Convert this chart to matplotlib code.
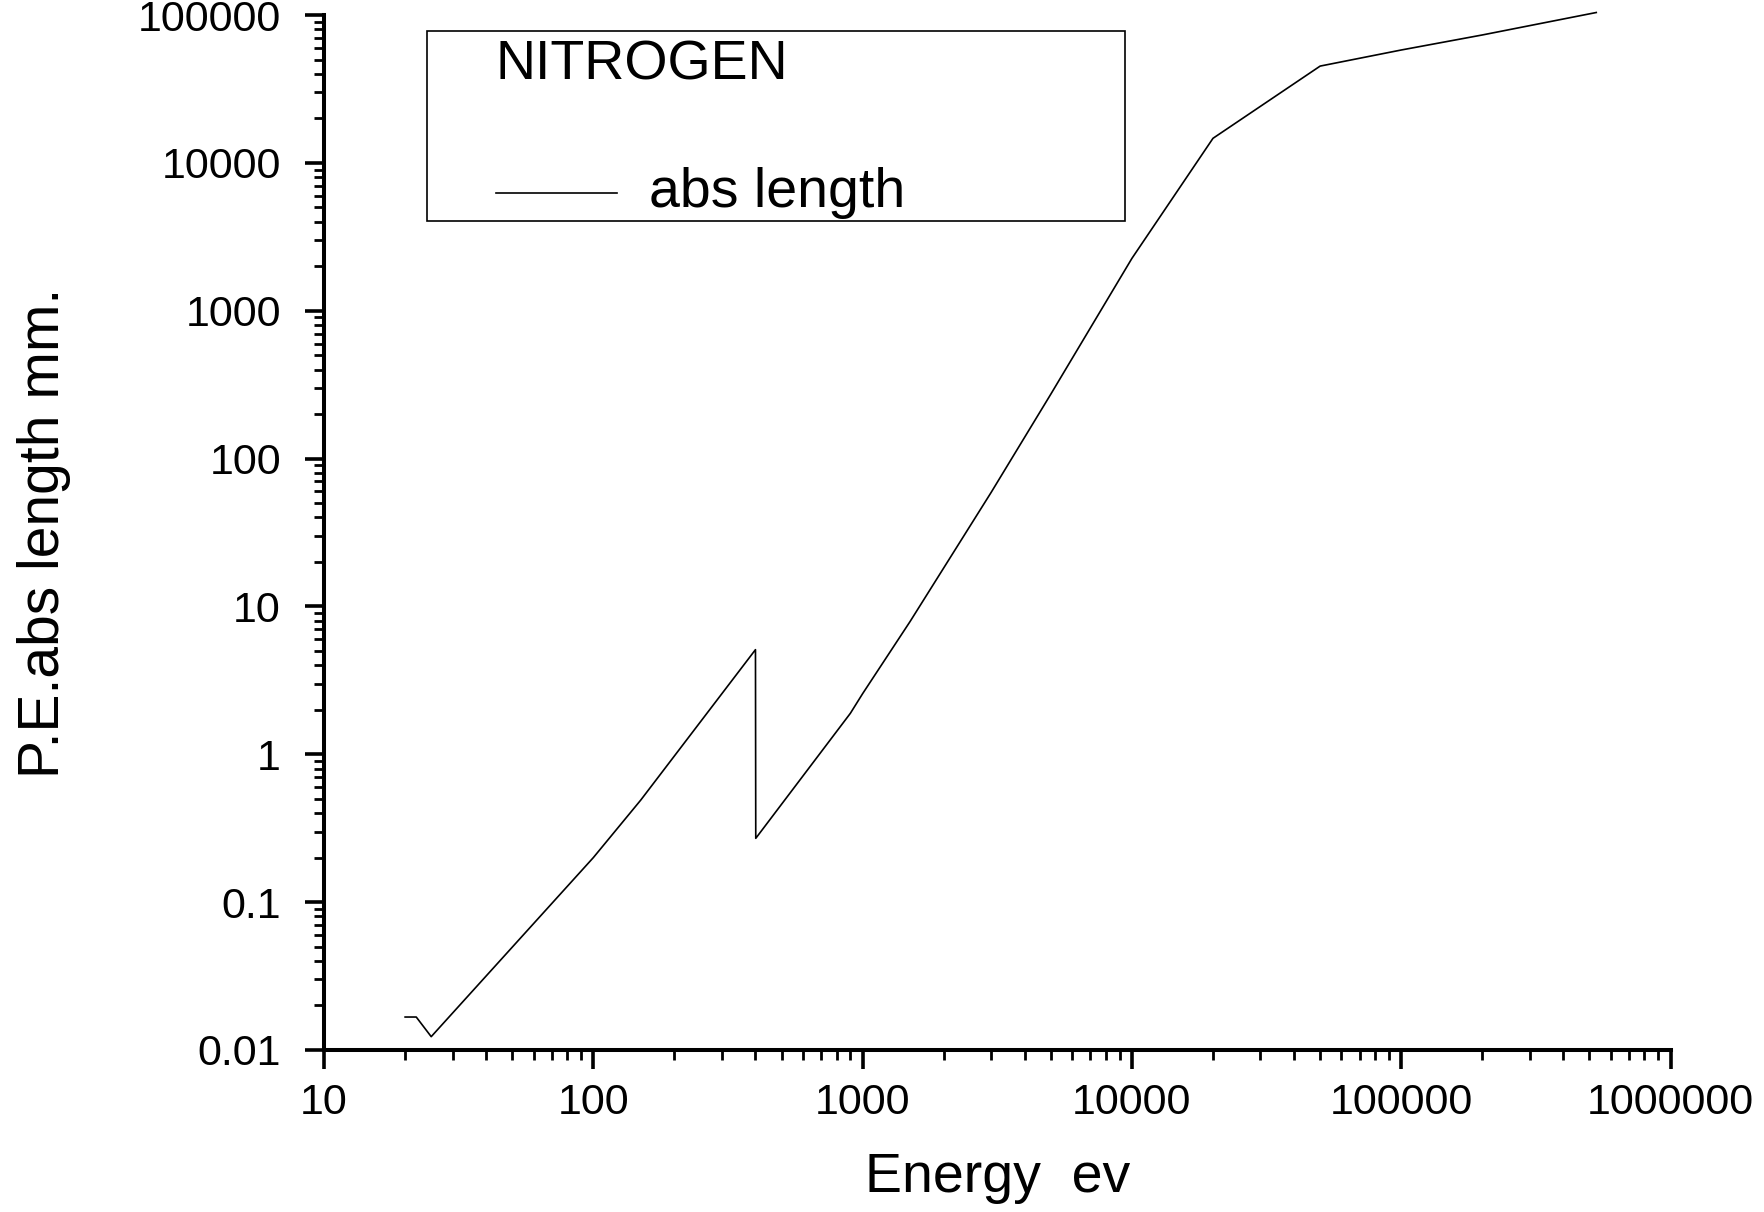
import matplotlib
matplotlib.use("Agg")
import matplotlib.pyplot as plt
from matplotlib.ticker import LogLocator, FuncFormatter, NullFormatter
from matplotlib.patches import Rectangle
from matplotlib.lines import Line2D

plt.rcParams['font.family'] = ['Liberation Sans', 'DejaVu Sans']

# photo-electric absorption length of nitrogen
energy_ev = [20, 22, 25, 100, 150, 400, 401, 900, 1000, 1500, 2000, 3000, 5000,
             10000, 20000, 50000, 100000, 200000, 530000]
abs_length_mm = [0.0167, 0.0167, 0.0123, 0.2, 0.49, 5.1, 0.27, 1.89, 2.57, 7.9, 18.2,
                 59, 273, 2260, 14660, 45150, 58000, 73300, 104000]

title = "NITROGEN"
series_label = "abs length"

fig = plt.figure(figsize=(17.64, 12.12), dpi=100)
ax = fig.add_axes([0.1837, 0.1337, 0.7633, 0.8539])

ax.plot(energy_ev, abs_length_mm, color='black', lw=1.2, clip_on=False)
ax.set_xscale('log')
ax.set_yscale('log')
ax.set_xlim(10, 1e6)
ax.set_ylim(0.01, 1e5)

for side in ['top', 'right']:
    ax.spines[side].set_visible(False)
for side in ['left', 'bottom']:
    ax.spines[side].set_linewidth(2.9)

fmt = FuncFormatter(lambda v, p: f'{v:.10g}')
for axis in (ax.xaxis, ax.yaxis):
    axis.set_major_locator(LogLocator(base=10, numticks=20))
    axis.set_minor_locator(LogLocator(base=10, subs=range(2, 10), numticks=20))
    axis.set_major_formatter(fmt)
    axis.set_minor_formatter(NullFormatter())

ax.tick_params(which='major', direction='out', length=14, width=2.6, labelsize=31, pad=10)
ax.tick_params(which='minor', direction='out', length=7, width=2.0)
ax.tick_params(axis='y', which='major', pad=17)

ax.set_xlabel("Energy  ev", fontsize=40)
ax.xaxis.set_label_coords(0.5, -0.099)
ax.set_ylabel("P.E.abs length mm.", fontsize=41)
ax.yaxis.set_label_coords(-0.188, 0.5)

# legend box drawn by hand, as in the original
box = Rectangle((0.0767, 0.801), 0.518, 0.184, transform=ax.transAxes,
                fill=False, edgecolor='black', lw=1.2, clip_on=False)
ax.add_patch(box)
ax.text(0.1275, 0.951, title, transform=ax.transAxes, fontsize=40,
        va='center', ha='left')
ax.add_line(Line2D([0.1275, 0.2175], [0.828, 0.828], transform=ax.transAxes,
                   color='black', lw=1.2))
ax.text(0.2412, 0.828, series_label, transform=ax.transAxes, fontsize=40,
        va='center', ha='left')

fig.savefig("out.png", dpi=100)
